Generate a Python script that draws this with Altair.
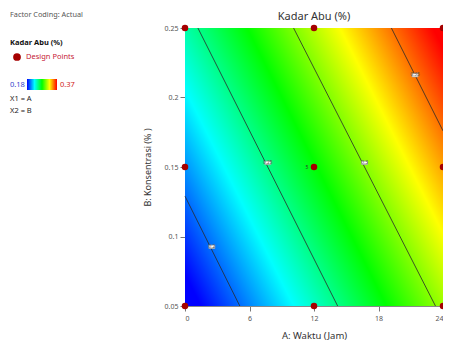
import altair as alt
import pandas as pd

# ---- data ----
# linear response surface (Kadar Abu) read from the contour positions
coef_const = 0.154
coef_A = 0.0055
coef_B = 0.357
A_range = [0, 24]
B_range = [0.05, 0.25]
color_min, color_max = 0.18, 0.37

# contour lines (end points)
contour_level = [0.2, 0.2, 0.25, 0.25, 0.3, 0.3, 0.35, 0.35]
contour_A = [0, 5.1, 1.2, 14.2, 10.1, 23.3, 19.2, 24]
contour_B = [0.129, 0.05, 0.25, 0.05, 0.25, 0.05, 0.25, 0.176]

# contour labels
label_text = ["0.2", "0.25", "0.3", "0.35"]
label_A = [2.5, 7.7, 16.7, 21.4]
label_B = [0.0926, 0.153, 0.153, 0.216]

# design points
pts_A = [0, 12, 24, 0, 12, 24, 0, 12, 24]
pts_B = [0.05, 0.05, 0.05, 0.15, 0.15, 0.15, 0.25, 0.25, 0.25]
center_label = "5"

x_ticks = [0, 6, 12, 18, 24]
y_ticks = [0.05, 0.1, 0.15, 0.2, 0.25]

rainbow = ["#0000FF", "#00FFFF", "#00FF00", "#FFFF00", "#FF0000"]

FONT = "Noto Sans"
W, H = 258, 278

# ---- gradient geometry (normalized bounding box of the field) ----
K = coef_const + B_range[1] * coef_B
gu = (A_range[1] - A_range[0]) * coef_A
gw = -(B_range[1] - B_range[0]) * coef_B
g2 = gu * gu + gw * gw
vc = K + 0.5 * gu + 0.5 * gw
t0 = (color_min - vc) / g2
t1 = (color_max - vc) / g2
stops = [alt.GradientStop(color=c, offset=i / (len(rainbow) - 1)) for i, c in enumerate(rainbow)]
grad = alt.Gradient(
    gradient="linear",
    x1=0.5 + t0 * gu, y1=0.5 + t0 * gw,
    x2=0.5 + t1 * gu, y2=0.5 + t1 * gw,
    stops=stops,
)
legend_grad = alt.Gradient(gradient="linear", x1=0, y1=0, x2=1, y2=0, stops=stops)

xs = alt.Scale(domain=A_range, nice=False, zero=False)
ys = alt.Scale(domain=B_range, nice=False, zero=False)
xaxis = alt.Axis(values=x_ticks, format="~g", title="A: Waktu (Jam)", grid=False,
                 labelFontSize=7, labelColor="#555", tickColor="#777", tickSize=5,
                 domainColor="#888", labelPadding=3, titleFontSize=9.5,
                 titleFontWeight="normal", titleColor="#333", titlePadding=9,
                 labelFont=FONT, titleFont=FONT)
yaxis = alt.Axis(values=y_ticks, format="~g", title="B: Konsentrasi (% )", grid=False,
                 labelFontSize=7, labelColor="#555", tickColor="#777", tickSize=5,
                 domainColor="#888", labelPadding=2, titleFontSize=9,
                 titleFontWeight="normal", titleColor="#333", titlePadding=12,
                 labelFont=FONT, titleFont=FONT)


def X(f):
    return alt.X(f, type="quantitative", scale=xs, axis=xaxis)


def Y(f):
    return alt.Y(f, type="quantitative", scale=ys, axis=yaxis)


field_df = pd.DataFrame({"a0": [A_range[0]], "a1": [A_range[1]], "b0": [B_range[0]], "b1": [B_range[1]]})
field = alt.Chart(field_df).mark_rect(fill=grad).encode(
    x=X("a0"), x2="a1", y=Y("b0"), y2="b1")

cont_df = pd.DataFrame({"level": contour_level, "A": contour_A, "B": contour_B})
contours = alt.Chart(cont_df).mark_line(color="#2a2a2a", strokeWidth=0.8).encode(
    x=X("A"), y=Y("B"), detail="level:N")

lab_df = pd.DataFrame({"t": label_text, "A": label_A, "B": label_B})
box = alt.Chart(lab_df).mark_point(
    shape="M-1,-0.55L1,-0.55L1,0.55L-1,0.55Z", size=36, filled=True,
    fill="white", stroke="#999", strokeWidth=0.7, opacity=1).encode(x=X("A"), y=Y("B"))
labs = alt.Chart(lab_df).mark_text(fontSize=4.8, color="#555", font=FONT).encode(
    x=X("A"), y=Y("B"), text="t:N")

pts_df = pd.DataFrame({"A": pts_A, "B": pts_B})
points = alt.Chart(pts_df).mark_circle(size=42, color="#A50000", opacity=1).encode(
    x=X("A"), y=Y("B"))

cl_df = pd.DataFrame({"A": [12], "B": [0.15], "t": [center_label]})
center = alt.Chart(cl_df).mark_text(fontSize=5, dx=-7, color="#333", font=FONT).encode(
    x=X("A"), y=Y("B"), text="t:N")

one = pd.DataFrame({"k": [0]})


def txt(s, x, y, size=7.5, color="#333", weight="normal", align="left"):
    return alt.Chart(one).mark_text(text=s, fontSize=size, color=color, fontWeight=weight,
                                    align=align, baseline="middle", font=FONT).encode(
        x=alt.value(x), y=alt.value(y))


LX = -175
title = txt("Kadar Abu (%)", W / 2, -11, size=11, color="#333", align="center")
leg = [
    txt("Factor Coding: Actual", LX, -13, size=7.3, color="#555"),
    txt("Kadar Abu (%)", LX, 15, size=7.5, color="#111", weight="bold"),
    alt.Chart(one).mark_circle(size=60, color="#A50000", opacity=1).encode(
        x=alt.value(LX + 7), y=alt.value(29)),
    txt("Design Points", LX + 16, 29, size=7.5, color="#C62035"),
    alt.Chart(one).mark_rect(fill=legend_grad).encode(
        x=alt.value(LX + 17), x2=alt.value(LX + 47), y=alt.value(51), y2=alt.value(62)),
    txt("0.18", LX, 57, size=7.5, color="#3344CC"),
    txt("0.37", LX + 50, 57, size=7.5, color="#D02020"),
    txt("X1 = A", LX, 71, size=7.5, color="#222"),
    txt("X2 = B", LX, 83, size=7.5, color="#222"),
]

chart = alt.layer(field, contours, box, labs, points, center, title, *leg).properties(
    width=W, height=H,
    autosize=alt.AutoSizeParams(type="none"),
    padding={"left": 177, "top": 20, "right": 0, "bottom": 38},
).configure_view(stroke=None)

chart.save("out.html", embed_options={"renderer": "svg", "actions": False})
